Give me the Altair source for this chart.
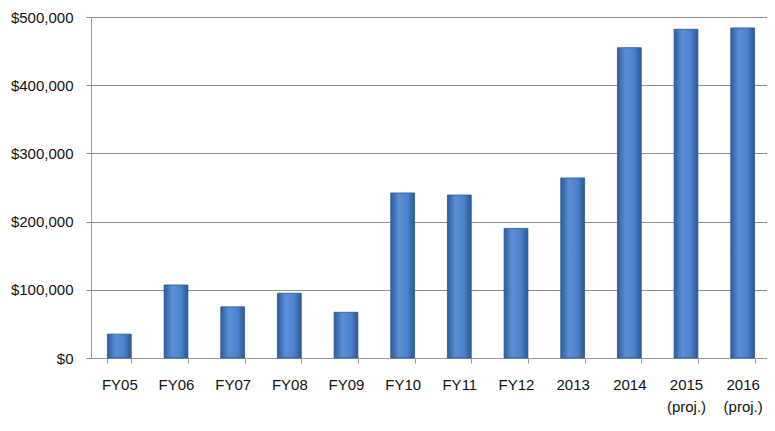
import altair as alt
import pandas as pd

categories = ["FY05", "FY06", "FY07", "FY08", "FY09", "FY10", "FY11", "FY12",
              "2013", "2014", "2015|(proj.)", "2016|(proj.)"]
values = [35000, 107000, 75000, 95000, 67000, 242000, 239000, 190000,
          264000, 455000, 482000, 484000]
y_ticks = [0, 100000, 200000, 300000, 400000, 500000]

df = pd.DataFrame({"year": categories, "amount": values})

grad = alt.Gradient(
    gradient="linear", x1=0, x2=1, y1=0, y2=0,
    stops=[
        alt.GradientStop(color="#2f5c9a", offset=0),
        alt.GradientStop(color="#5b90d8", offset=0.35),
        alt.GradientStop(color="#4c82cc", offset=0.7),
        alt.GradientStop(color="#2c5895", offset=1),
    ],
)

FONT = "Liberation Sans"

chart = alt.Chart(df).mark_bar(color=grad, stroke="#2b5590", strokeWidth=0.8).encode(
    x=alt.X(
        "year:N", sort=categories,
        scale=alt.Scale(range=[0, 680], paddingInner=0.58, paddingOuter=0.29),
        axis=alt.Axis(
            title=None, labelAngle=0, labelExpr="split(datum.label, '|')",
            tickBand="extent", tickSize=5, tickColor="#999999",
            domainColor="#999999", labelFont=FONT, labelFontSize=15,
            labelColor="#111111", labelPadding=14, labelLineHeight=22,
        ),
    ),
    y=alt.Y(
        "amount:Q",
        scale=alt.Scale(domain=[0, 500000], nice=False),
        axis=alt.Axis(
            values=y_ticks, format="$,.0f", title=None,
            grid=True, gridColor="#8c8c8c", gridWidth=1,
            tickSize=5, tickColor="#8c8c8c", domainColor="#999999",
            labelFont=FONT, labelFontSize=15, labelColor="#111111",
            labelPadding=13,
        ),
    ),
).properties(
    width=676, height=341,
    padding={"left": 83, "top": 9, "right": 0, "bottom": 57},
    autosize=alt.AutoSizeParams(type="none"),
    background="white",
).configure_view(strokeWidth=0)

chart.save("out.html", embed_options={"renderer": "svg", "actions": False})
